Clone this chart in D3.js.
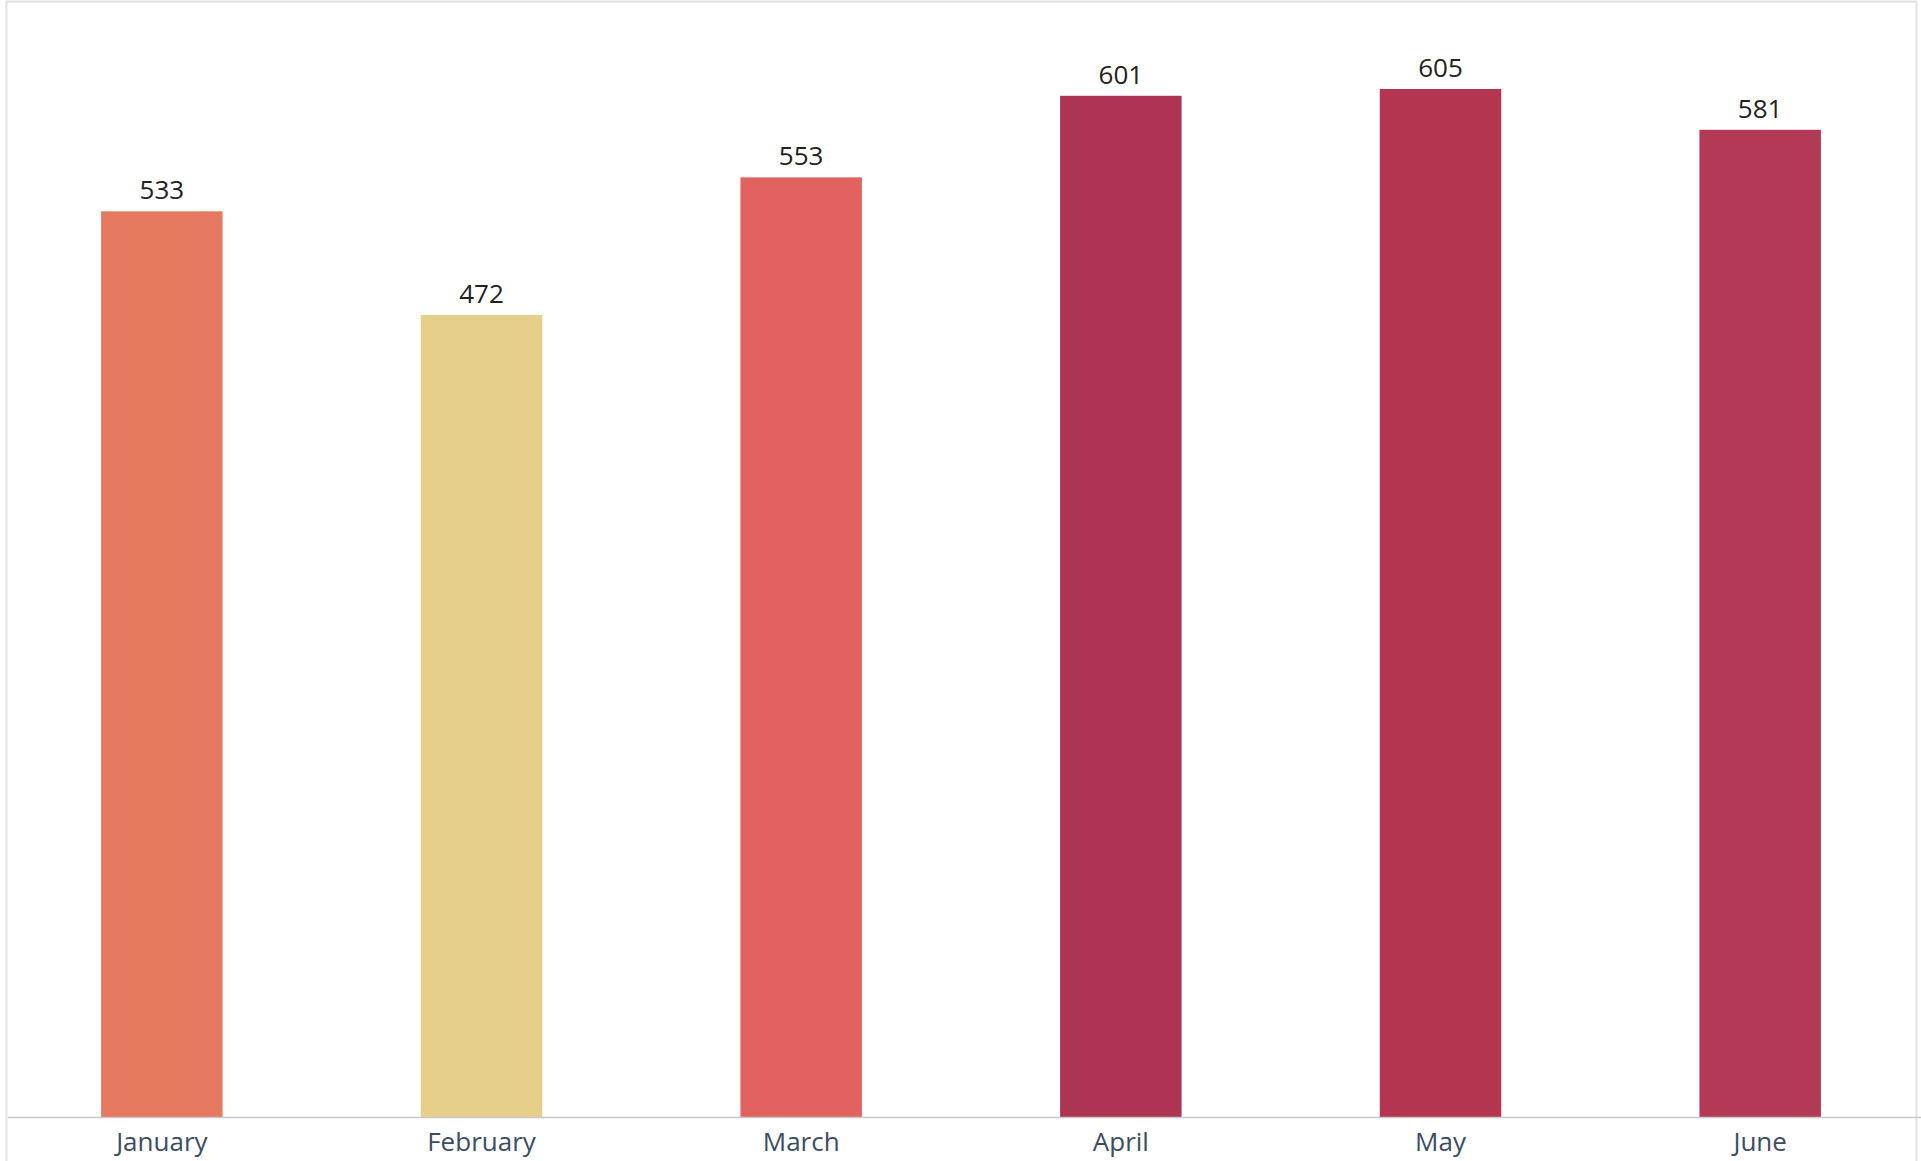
<!DOCTYPE html>
<html>
<head>
<meta charset="utf-8">
<script src="https://cdn.jsdelivr.net/npm/d3@7"></script>
<style>
  html, body { margin: 0; padding: 0; background: #fff; }
  svg { display: block; }
</style>
</head>
<body>
<script>
"use strict";

// Monthly totals
const months = ["January", "February", "March", "April", "May", "June"];
const totals = [533, 472, 553, 601, 605, 581];
const barColors = ["#e5785e", "#e6cf88", "#e2625f", "#ad3553", "#b3354f", "#b33a56"];

const width = 1921;
const height = 1161;
const baseline = 1117;

let svg = d3.select("body").append("svg")
    .attr("width", width)
    .attr("height", height);

// faint frame from the scanned page
svg.append("rect")
    .attr("x", 6.5).attr("y", 1.5)
    .attr("width", 1910).attr("height", 1170)
    .attr("fill", "none")
    .attr("stroke", "#e2e2e2")
    .attr("stroke-width", 2);

let x = d3.scaleBand()
    .domain(months)
    .range([2, 1920])
    .paddingInner(0.62)
    .paddingOuter(0.31);

let y = d3.scaleLinear()
    .domain([0, 605])
    .range([baseline, 89]);

let data = months.map((m, i) => ({month: m, total: totals[i], color: barColors[i]}));

svg.append("g")
    .selectAll("rect")
    .data(data)
    .enter().append("rect")
    .attr("x", d => x(d.month))
    .attr("y", d => y(d.total))
    .attr("width", x.bandwidth())
    .attr("height", d => baseline - y(d.total))
    .attr("fill", d => d.color);

svg.append("g")
    .selectAll("text")
    .data(data)
    .enter().append("text")
    .attr("x", d => x(d.month) + x.bandwidth() / 2)
    .attr("y", d => y(d.total) - 12)
    .attr("text-anchor", "middle")
    .attr("font-family", "Open Sans, sans-serif")
    .attr("font-size", 26)
    .attr("fill", "#222")
    .text(d => d.total);

// x axis
let axis = svg.append("g")
    .attr("transform", `translate(0,${baseline})`)
    .call(d3.axisBottom(x).tickSize(0).tickPadding(16));
axis.select(".domain")
    .attr("d", `M8,0.5H1921`)
    .attr("stroke", "#c8c8c8")
    .attr("stroke-width", 1.5);
axis.selectAll("text")
    .attr("font-family", "Open Sans, sans-serif")
    .attr("font-size", 26)
    .attr("fill", "#3a4d62");
</script>
</body>
</html>
